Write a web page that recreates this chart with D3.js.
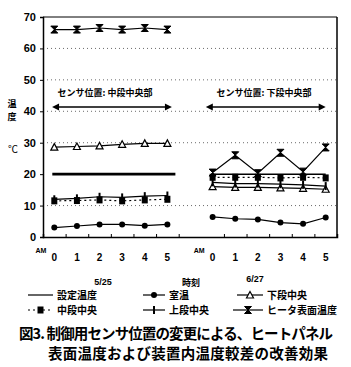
<!DOCTYPE html>
<html lang="ja">
<meta charset="utf-8">
<head>
<script src="https://d3js.org/d3.v7.min.js"></script>
<style>
  body { margin: 0; background: #fff; }
  text { font-family: "Noto Sans CJK JP", "Liberation Sans", sans-serif; font-weight: bold; fill: #000; }
</style>
</head>
<body>
<script>
// hours shown on each day, tick labels
const hours = [0, 1, 2, 3, 4, 5];
const dates = ["5/25", "6/27"];
const yTicks = [0, 10, 20, 30, 40, 50, 60, 70];

// series values: [day 5/25, day 6/27]
const setTemp  = [[20, 20, 20, 20, 20, 20], [20, 20, 20, 20, 20, 20]];
const roomTemp = [[3, 3.5, 4, 4, 3.6, 4], [6.4, 5.8, 5.6, 4.6, 4.2, 6.2]];
const lowerMid = [[28.6, 28.8, 29, 29.5, 29.8, 29.8], [16, 15.8, 15.8, 15.6, 15.5, 15.2]];
const midMid   = [[11.5, 11.6, 11.8, 11.5, 11.8, 12], [19, 19, 19, 18.8, 19, 18.8]];
const upperMid = [[12, 12.3, 12.8, 12.6, 13, 13.2], [17.4, 17, 17, 16.8, 16.6, 16.2]];
const heater   = [[66, 66, 66.5, 66, 66.5, 66], [20.5, 26, 20.3, 26.8, 20.8, 28.5]];

const series = [
  {name: "設定温度", values: setTemp, marker: "none", dash: null},
  {name: "室温", values: roomTemp, marker: "circle", dash: null},
  {name: "下段中央", values: lowerMid, marker: "triangle", dash: null},
  {name: "中段中央", values: midMid, marker: "square", dash: "2,3"},
  {name: "上段中央", values: upperMid, marker: "plus", dash: null},
  {name: "ヒータ表面温度", values: heater, marker: "hourglass", dash: null}
];

const W = 351, H = 367;
const svg = d3.select("body").append("svg")
  .attr("width", W).attr("height", H);
svg.append("rect").attr("width", W).attr("height", H).attr("fill", "#fff");

// position index: day 0 -> 0..5, day 1 -> 7..12
const x = d3.scaleLinear().domain([-0.5, 12.5]).range([43, 337]);
const y = d3.scaleLinear().domain([0, 70]).range([237, 17]);
const pos = (day, h) => x(day * 7 + h);

// dotted gridlines
svg.append("g").selectAll("line")
  .data([10, 30, 40, 50, 60])
  .join("line")
  .attr("x1", x(-0.5)).attr("x2", x(12.5))
  .attr("y1", d => y(d)).attr("y2", d => y(d))
  .attr("stroke", "#444").attr("stroke-width", 0.8)
  .attr("stroke-dasharray", "1,3");

// frame
svg.append("line").attr("x1", x(-0.5)).attr("x2", x(12.5)).attr("y1", y(70)).attr("y2", y(70))
  .attr("stroke", "#000").attr("stroke-width", 1);
svg.append("line").attr("x1", x(12.5)).attr("x2", x(12.5)).attr("y1", y(70)).attr("y2", y(0))
  .attr("stroke", "#000").attr("stroke-width", 1.5);

// y axis
const yAxis = svg.append("g")
  .attr("transform", "translate(" + x(-0.5) + ",0)")
  .call(d3.axisLeft(y).tickValues(yTicks).tickSize(3).tickPadding(4));
yAxis.select(".domain").attr("stroke-width", 1.5);
yAxis.selectAll("text").style("font-size", "11px")
  .style("font-family", "'Liberation Sans Narrow', 'Liberation Sans', sans-serif")
  .style("font-weight", "bold");

// x axis (ticks between hours)
const xAxis = svg.append("g")
  .attr("transform", "translate(0," + y(0) + ")")
  .call(d3.axisBottom(x).tickValues([0.5, 1.5, 2.5, 3.5, 4.5, 5.5, 7.5, 8.5, 9.5, 10.5, 11.5])
    .tickSize(-3).tickFormat(""));
xAxis.select(".domain").attr("stroke-width", 1.5);

// hour labels
dates.forEach((dt, day) => {
  svg.append("g").selectAll("text")
    .data(hours)
    .join("text")
    .attr("x", h => pos(day, h))
    .attr("y", 261)
    .attr("text-anchor", "middle")
    .style("font-size", "10px")
    .style("font-family", "'Liberation Sans', sans-serif")
    .text(h => h);
  svg.append("text")
    .attr("x", pos(day, 0) - 8).attr("y", 253)
    .attr("text-anchor", "end")
    .style("font-size", "7px")
    .style("font-family", "'Liberation Sans', sans-serif")
    .text("AM");
});
svg.append("text").attr("x", 103).attr("y", 285).attr("text-anchor", "middle")
  .style("font-size", "9px").style("font-family", "'Liberation Sans', sans-serif").text(dates[0]);
svg.append("text").attr("x", 255).attr("y", 282).attr("text-anchor", "middle")
  .style("font-size", "9px").style("font-family", "'Liberation Sans', sans-serif").text(dates[1]);
svg.append("text").attr("x", 191).attr("y", 286).attr("text-anchor", "middle")
  .style("font-size", "9px").text("時刻");

// y label
[["温", 107], ["度", 120]].forEach(([t, yy]) => {
  svg.append("text").attr("x", 12).attr("y", yy).attr("text-anchor", "middle")
    .style("font-size", "9px").text(t);
});
svg.append("text").attr("x", 13).attr("y", 153).attr("text-anchor", "middle")
  .style("font-size", "10px").style("font-weight", "normal").text("℃");

// marker drawing
function drawMarker(g, type, cx, cy) {
  if (type === "circle") {
    g.append("circle").attr("cx", cx).attr("cy", cy).attr("r", 3).attr("fill", "#000");
  } else if (type === "triangle") {
    g.append("path").attr("d", `M${cx},${cy - 3.5}L${cx + 3.5},${cy + 3}L${cx - 3.5},${cy + 3}Z`)
      .attr("fill", "#fff").attr("stroke", "#000").attr("stroke-width", 1.2);
  } else if (type === "square") {
    g.append("rect").attr("x", cx - 3).attr("y", cy - 3.5).attr("width", 6).attr("height", 7).attr("fill", "#000");
  } else if (type === "plus") {
    g.append("line").attr("x1", cx).attr("x2", cx).attr("y1", cy - 4).attr("y2", cy + 4)
      .attr("stroke", "#000").attr("stroke-width", 2);
  } else if (type === "hourglass") {
    g.append("path").attr("d", `M${cx - 3.5},${cy - 3.5}H${cx + 3.5}L${cx - 3.5},${cy + 3.5}H${cx + 3.5}Z`)
      .attr("fill", "#000").attr("stroke", "#000").attr("stroke-width", 1);
  }
}

const line = d3.line().x(d => d[0]).y(d => d[1]);

// series
series.forEach(s => {
  const g = svg.append("g");
  s.values.forEach((vals, day) => {
    const pts = vals.map((v, h) => [pos(day, h), y(v)]);
    if (s.marker === "none" && day === 0) {
      pts[pts.length - 1][0] += 8;
      pts[0][0] -= 2;
    }
    g.append("path").datum(pts)
      .attr("fill", "none").attr("stroke", "#000")
      .attr("stroke-width", s.marker === "none" ? (day === 0 ? 2.8 : 1.5) : 1.2)
      .attr("stroke-dasharray", s.dash)
      .attr("d", line);
    if (s.marker !== "none") pts.forEach(p => drawMarker(g, s.marker, p[0], p[1]));
  });
});

// sensor position annotations
const annots = [
  {label: "センサ位置: 中段中央部", from: -0.1, to: 5.2, tx: 105},
  {label: "センサ位置: 下段中央部", from: 6.7, to: 12, tx: 264}
];
const ann = svg.append("g");
annots.forEach(a => {
  const x1 = x(a.from), x2 = x(a.to), yy = 107;
  ann.append("line").attr("x1", x1 + 4).attr("x2", x2 - 4).attr("y1", yy).attr("y2", yy)
    .attr("stroke", "#000").attr("stroke-width", 1.3);
  ann.append("path").attr("d", `M${x1},${yy}L${x1 + 7},${yy - 3.5}L${x1 + 7},${yy + 3.5}Z`).attr("fill", "#000");
  ann.append("path").attr("d", `M${x2},${yy}L${x2 - 7},${yy - 3.5}L${x2 - 7},${yy + 3.5}Z`).attr("fill", "#000");
  ann.append("text").attr("x", a.tx).attr("y", 96).attr("text-anchor", "middle")
    .style("font-size", "9px").text(a.label);
});

// legend
const legendPos = [
  {lx: 28, tx: 57, ly: 295}, {lx: 143, tx: 169, ly: 295}, {lx: 237, tx: 267, ly: 295},
  {lx: 28, tx: 57, ly: 310}, {lx: 143, tx: 169, ly: 310}, {lx: 233, tx: 267, ly: 310}
];
series.forEach((s, i) => {
  const p = legendPos[i];
  const g = svg.append("g");
  const x2 = p.tx - 4;
  g.append("line").attr("x1", p.lx).attr("x2", x2).attr("y1", p.ly).attr("y2", p.ly)
    .attr("stroke", "#000").attr("stroke-width", 1.2).attr("stroke-dasharray", s.dash);
  if (s.marker !== "none") drawMarker(g, s.marker, (p.lx + x2) / 2, p.ly);
  g.append("text").attr("x", p.tx).attr("y", p.ly + 4).style("font-size", "10px").text(s.name);
});

// caption
svg.append("text").attr("x", 19).attr("y", 339).attr("textLength", 314)
  .style("font-size", "14.5px").text("図3. 制御用センサ位置の変更による、ヒートパネル");
svg.append("text").attr("x", 48).attr("y", 359).attr("textLength", 280)
  .style("font-size", "14.5px").text("表面温度および装置内温度較差の改善効果");
</script>
</body>
</html>
